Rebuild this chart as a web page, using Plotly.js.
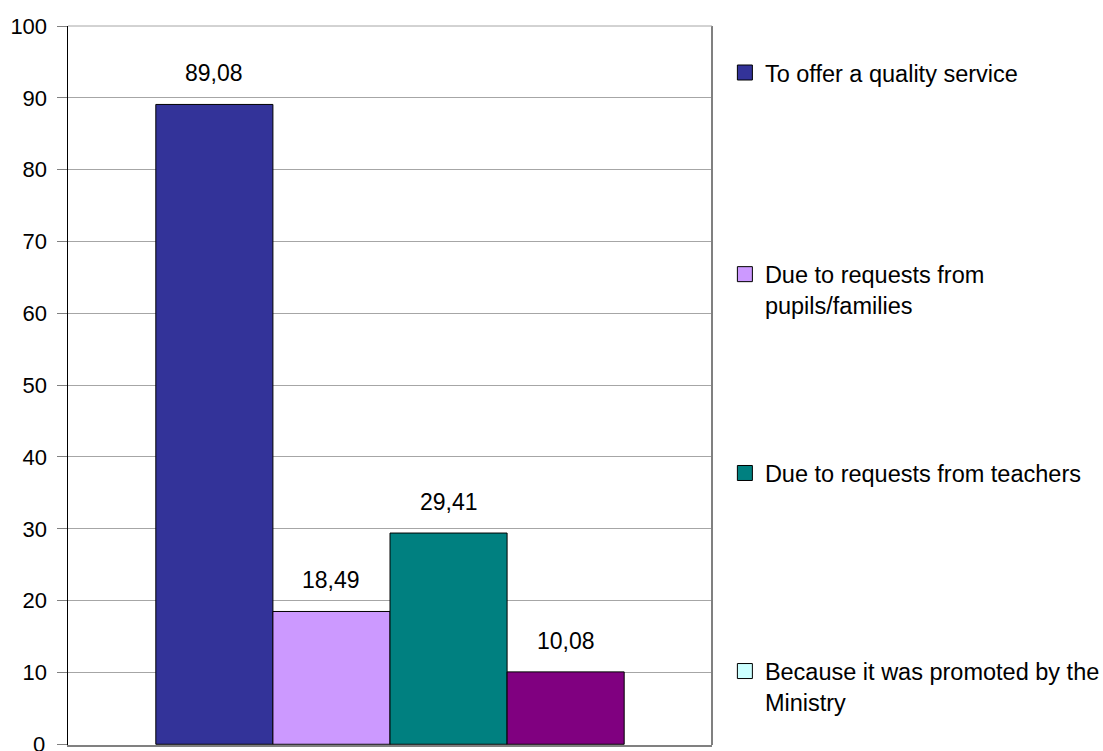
<!DOCTYPE html>
<html>
<head>
<meta charset="utf-8">
<script src="https://cdn.plot.ly/plotly-3.0.1.min.js"></script>
<style>
  html, body { margin: 0; padding: 0; background: #ffffff; }
  #chart { width: 1103px; height: 751px; }
</style>
</head>
<body>
<div id="chart"></div>
<script>
// Reasons for offering the service (% of schools)
const seriesNames = [
  'To offer a quality service',
  'Due to requests from<br>pupils/families',
  'Due to requests from teachers',
  'Because it was promoted by the<br>Ministry'
];
const seriesValues = [89.08, 18.49, 29.41, 10.08];
const barColors = ['#333399', '#CC99FF', '#008080', '#800080'];
const legendColors = ['#333399', '#CC99FF', '#008080', '#CCFFFF'];
const yTickValues = [0, 10, 20, 30, 40, 50, 60, 70, 80, 90, 100];

const FONT = '"Liberation Sans", Arial, sans-serif';

// one bar per reason, each on its own slot of the category axis
const barTrace = {
  type: 'bar',
  x: seriesNames,
  y: seriesValues,
  marker: { color: barColors, line: { color: '#000000', width: 1 } },
  width: 1,
  showlegend: false,
  hoverinfo: 'skip'
};

// legend entries, one legend box per reason so each can sit at its own height
const legendY = [0.935, 0.633, 0.378, 0.081];
const legendTraces = seriesNames.map((name, i) => ({
  type: 'scatter',
  mode: 'markers',
  x: [null],
  y: [null],
  name: name,
  legend: i === 0 ? 'legend' : 'legend' + (i + 1),
  marker: { symbol: 'square', size: 15, color: legendColors[i], line: { color: '#000000', width: 1 } }
}));

const fmt = v => v.toFixed(2).replace('.', ',');
const annotations = seriesValues.map((v, i) => ({
  x: seriesNames[i],
  y: v,
  xref: 'x',
  yref: 'y',
  text: fmt(v),
  showarrow: false,
  yanchor: 'middle',
  yshift: 31,
  font: { family: FONT, size: 23, color: '#000000' }
}));

// the baseline label sits on the bottom edge of the page, so it is placed as text
annotations.push({
  x: 0,
  xref: 'paper',
  y: yTickValues[0],
  yref: 'y',
  text: String(yTickValues[0]),
  showarrow: false,
  xanchor: 'right',
  yanchor: 'middle',
  xshift: -21,
  font: { family: FONT, size: 22, color: '#000000' }
});

const legendBase = (y) => ({
  x: 1.02,
  xanchor: 'left',
  y: y,
  yanchor: 'middle',
  valign: 'top',
  bgcolor: 'rgba(0,0,0,0)',
  borderwidth: 0,
  font: { family: FONT, size: 23.5, color: '#000000' }
});

const layout = {
  width: 1103,
  height: 751,
  margin: { l: 68, r: 391, t: 26, b: 6, pad: 0, autoexpand: false },
  paper_bgcolor: '#ffffff',
  plot_bgcolor: '#ffffff',
  font: { family: FONT, size: 23, color: '#000000' },
  showlegend: true,
  legend: legendBase(legendY[0]),
  legend2: legendBase(legendY[1]),
  legend3: legendBase(legendY[2]),
  legend4: legendBase(legendY[3]),
  xaxis: {
    type: 'category',
    range: [-1.25, 4.25],
    showticklabels: false,
    ticks: '',
    showgrid: false,
    zeroline: false,
    showline: true,
    linecolor: '#808080',
    linewidth: 2,
    fixedrange: true
  },
  yaxis: {
    range: [-0.1, 100],
    tickvals: yTickValues,
    ticktext: yTickValues.map(String),
    ticks: 'outside',
    ticklen: 10,
    tickcolor: '#808080',
    tickwidth: 1,
    ticklabelstandoff: 5,
    tickfont: { family: FONT, size: 22, color: '#000000' },
    showgrid: true,
    gridcolor: '#a6a6a6',
    gridwidth: 1,
    zeroline: false,
    showline: true,
    linecolor: '#000000',
    linewidth: 1.5,
    fixedrange: true,
    automargin: false
  },
  shapes: [
    { type: 'line', xref: 'paper', yref: 'paper', x0: 1, x1: 1, y0: 0, y1: 1,
      line: { color: '#808080', width: 2 } },
    { type: 'line', xref: 'paper', yref: 'paper', x0: 0, x1: 1, y0: 1, y1: 1,
      line: { color: '#a6a6a6', width: 1 } }
  ],
  annotations: annotations
};

Plotly.newPlot('chart', [barTrace].concat(legendTraces), layout, { displayModeBar: false, staticPlot: true });
</script>
</body>
</html>
